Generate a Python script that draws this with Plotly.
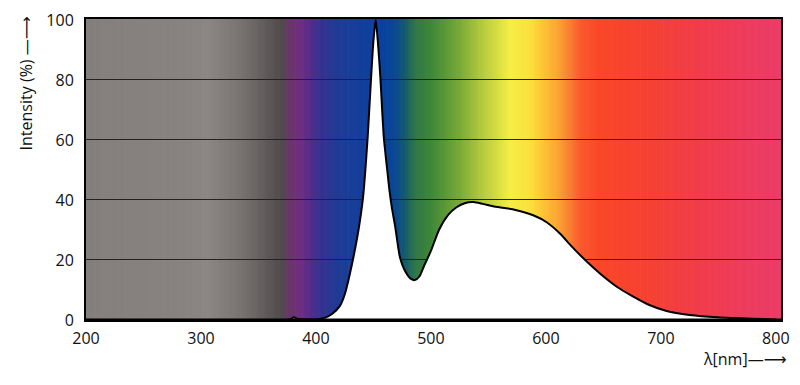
import plotly.graph_objects as go

# Spectrum data (wavelength nm, relative intensity %)
wavelength = [200, 300, 370, 378, 381, 384, 390, 400, 408, 414, 421, 425, 431, 437, 441, 445,
              448, 450, 452, 454, 456, 459, 462, 464, 466, 469, 473, 478, 483, 486, 490, 494,
              500, 507, 515, 522, 530, 537, 545, 554, 571, 589, 601, 612, 623, 636, 647, 662,
              676, 690, 705, 725, 749, 780, 800]
intensity = [0, 0, 0, 0.3, 0.9, 0.4, 0.2, 0.2, 0.8, 2.0, 4.8, 8.5, 18, 30, 41, 61,
             81, 93, 100, 92, 81, 61, 50, 43, 37.5, 31, 21, 16, 13.6, 13.3, 14.5, 18,
             23, 30, 35, 37.5, 39, 39.3, 38.7, 37.9, 36.9, 34.9, 32.5, 28.9, 24.3, 19.3, 15.5, 11,
             7.8, 5, 3, 1.7, 0.9, 0.4, 0.2]

x_ticks = [200, 300, 400, 500, 600, 700, 800]
y_ticks = [0, 20, 40, 60, 80, 100]

# Background colour stops (nm, rgb)
bg_stop_nm = [200, 290, 305, 335, 360, 370, 378, 387, 397, 405, 420, 456, 468, 477, 487, 500,
              525, 543, 569, 586, 596, 612, 630, 647, 690, 734, 805]
bg_stop_rgb = [(132, 127, 125), (136, 131, 129), (140, 135, 133), (120, 114, 113), (92, 86, 86),
               (80, 75, 75), (108, 52, 110), (110, 45, 130), (78, 45, 140), (52, 50, 145),
               (30, 60, 150), (10, 65, 160), (10, 70, 150), (20, 90, 110), (50, 120, 70),
               (62, 135, 55), (120, 170, 55), (175, 200, 60), (245, 238, 70), (250, 225, 60),
               (253, 200, 55), (250, 160, 50), (250, 90, 45), (250, 70, 40), (245, 65, 50),
               (240, 60, 75), (235, 60, 105)]


def bg_color(nm):
    for i in range(len(bg_stop_nm) - 1):
        a, b = bg_stop_nm[i], bg_stop_nm[i + 1]
        if a <= nm <= b:
            t = (nm - a) / (b - a)
            c0, c1 = bg_stop_rgb[i], bg_stop_rgb[i + 1]
            return "rgb(%d,%d,%d)" % tuple(round(c0[k] + (c1[k] - c0[k]) * t) for k in range(3))
    return "rgb(%d,%d,%d)" % bg_stop_rgb[-1]


shapes = []
step = 2
nm = 200
while nm < 805:
    shapes.append(dict(type="rect", xref="x", yref="paper", x0=nm, x1=nm + step + 0.6,
                       y0=0, y1=1, fillcolor=bg_color(nm + step / 2), line=dict(width=0),
                       layer="below"))
    nm += step

fig = go.Figure()
fig.add_trace(go.Scatter(x=wavelength, y=intensity, mode="lines", fill="tozeroy",
                         fillcolor="white", line=dict(color="black", width=2, shape="spline",
                                                      smoothing=0.6),
                         hoverinfo="skip", showlegend=False))

font_family = "Open Sans, DejaVu Sans, sans-serif"

# page body has an 8px default margin, so the figure is sized/offset to compensate
fig.update_layout(
    width=792, height=377,
    margin=dict(l=78, r=19, t=11, b=65),
    paper_bgcolor="white", plot_bgcolor="white",
    shapes=shapes,
    font=dict(family=font_family, size=16, color="#111"),
    xaxis=dict(range=[200, 804.5], tickvals=x_ticks, showgrid=False, zeroline=False,
               showline=True, linecolor="black", linewidth=2, mirror=True, automargin=False,
               ticks="outside", ticklen=3, tickcolor="rgba(0,0,0,0)"),
    yaxis=dict(range=[0, 100.3], tickvals=y_ticks, showgrid=True, gridcolor="#222",
               gridwidth=1, zeroline=False, showline=True, linecolor="black", linewidth=2,
               mirror=True, automargin=False, ticks="outside", ticklen=7,
               tickcolor="rgba(0,0,0,0)"),
    annotations=[
        dict(text="Intensity (%) \u2014\u27f6", xref="paper", yref="paper", x=-0.085,
             y=1.015, xanchor="center", yanchor="top", textangle=-90, showarrow=False,
             font=dict(size=16, family=font_family)),
        dict(text="\u03bb[nm]\u2014\u27f6", xref="paper", yref="paper", x=1.012, y=-0.088,
             xanchor="right", yanchor="top", showarrow=False,
             font=dict(size=16, family=font_family)),
    ],
)
fig.add_shape(type="line", xref="paper", yref="y", x0=0, x1=1, y0=0, y1=0,
              line=dict(color="black", width=3), layer="above")

fig.write_html("out.html")
